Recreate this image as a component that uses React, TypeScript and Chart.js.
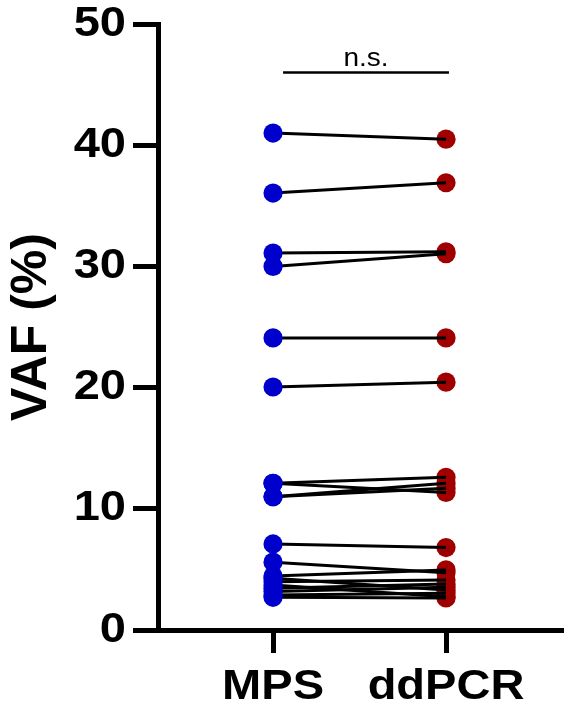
import React, { useEffect, useRef } from 'react';
import { Chart, registerables } from 'chart.js';

Chart.register(...registerables);

// ---- data ----
const GROUPS = ['MPS', 'ddPCR'];
const MPS_VAF = [41.0, 36.05, 31.1, 30.0, 24.1, 20.05, 12.1, 12.1, 11.0, 11.0, 7.1, 5.6, 4.46, 4.27, 3.99, 3.72, 3.45, 3.17, 2.89, 2.7];
const DDPCR_VAF = [40.5, 36.9, 31.2, 31.05, 24.1, 20.45, 12.6, 11.35, 12.1, 11.7, 6.8, 4.73, 4.96, 3.3, 4.13, 2.75, 3.8, 3.53, 3.03, 2.65];
const Y_TICKS = [0, 10, 20, 30, 40, 50];
const Y_TITLE = 'VAF (%)';
const SIGNIF_LABEL = 'n.s.';
const SIGNIF_Y = 46;
const SIGNIF_X = [1.058, 2.017];

const FONT = '"Liberation Sans", Arial, sans-serif';
const TEXT_STRETCH = 1.12;
const BLUE = 'rgb(0,0,204)';
const RED = 'rgb(160,0,0)';

function stretchHorizontalText(ctx: any) {
  if (ctx.__stretched) return;
  const orig = ctx.fillText;
  ctx.fillText = function (text: string, x: number, y: number) {
    const m = this.getTransform();
    if (Math.abs(m.b) > 0.01 || Math.abs(m.c) > 0.01) {
      return orig.call(this, text, x, y);
    }
    this.save();
    this.translate(x, y);
    this.scale(TEXT_STRETCH, 1);
    orig.call(this, text, 0, 0);
    this.restore();
  };
  ctx.__stretched = true;
}

const bracketPlugin = {
  id: 'signifBracket',
  afterDatasetsDraw(chart: any) {
    const { ctx, scales } = chart;
    const xs = scales.x;
    const ys = scales.y;
    const x1 = xs.getPixelForValue(SIGNIF_X[0]);
    const x2 = xs.getPixelForValue(SIGNIF_X[1]);
    const yy = ys.getPixelForValue(SIGNIF_Y);
    ctx.save();
    ctx.strokeStyle = '#000';
    ctx.lineWidth = 2.5;
    ctx.beginPath();
    ctx.moveTo(x1, yy);
    ctx.lineTo(x2, yy);
    ctx.stroke();
    ctx.fillStyle = '#000';
    ctx.font = `25px ${FONT}`;
    ctx.textAlign = 'center';
    ctx.textBaseline = 'alphabetic';
    ctx.fillText(SIGNIF_LABEL, (x1 + x2) / 2, yy - 6.5);
    ctx.restore();
  },
};

export default function App() {
  const ref = useRef<HTMLCanvasElement | null>(null);

  useEffect(() => {
    const canvas = ref.current;
    if (!canvas) return;
    const ctx = canvas.getContext('2d');
    stretchHorizontalText(ctx);

    const pairSets = MPS_VAF.map((v, i) => ({
      type: 'line' as const,
      data: [
        { x: 1, y: v },
        { x: 2, y: DDPCR_VAF[i] },
      ],
      borderColor: '#000',
      borderWidth: 3,
      pointRadius: 0,
      fill: false,
      order: 2,
    }));

    const chart = new Chart(ctx as any, {
      type: 'scatter',
      data: {
        datasets: [
          {
            label: GROUPS[0],
            data: MPS_VAF.map((v) => ({ x: 1, y: v })),
            backgroundColor: BLUE,
            borderColor: BLUE,
            borderWidth: 0,
            pointRadius: 9.6,
            order: 1,
          },
          ...pairSets,
          {
            label: GROUPS[1],
            data: DDPCR_VAF.map((v) => ({ x: 2, y: v })),
            backgroundColor: RED,
            borderColor: RED,
            borderWidth: 0,
            pointRadius: 9.6,
            order: 3,
          },
        ] as any,
      },
      options: {
        animation: false,
        responsive: false,
        devicePixelRatio: 1,
        layout: { autoPadding: false, padding: { top: 24, right: 0, left: 0, bottom: 0 } },
        plugins: {
          legend: { display: false },
          tooltip: { enabled: false },
        },
        scales: {
          x: {
            type: 'linear',
            min: 0.335,
            max: 2.682,
            afterBuildTicks: (s: any) => {
              s.ticks = [1, 2].map((v) => ({ value: v }));
            },
            afterFit: (s: any) => {
              s.height = 78;
              s.paddingLeft = 0;
              s.paddingRight = 0;
            },
            grid: {
              drawOnChartArea: false,
              drawTicks: true,
              tickLength: 23,
              tickWidth: 5,
              tickColor: '#000',
            },
            border: { display: true, width: 5, color: '#000' },
            ticks: {
              color: '#000',
              padding: 13,
              autoSkip: false,
              maxRotation: 0,
              minRotation: 0,
              font: { family: FONT, size: 42, weight: 'bold', lineHeight: 1 },
              callback: (v: any) => GROUPS[Math.round(Number(v)) - 1] ?? '',
            },
          },
          y: {
            type: 'linear',
            min: 0,
            max: 50,
            afterBuildTicks: (s: any) => {
              s.ticks = Y_TICKS.map((v) => ({ value: v }));
            },
            afterFit: (s: any) => {
              s.width = 158;
              s.paddingTop = 0;
              s.paddingBottom = 0;
            },
            grid: {
              drawOnChartArea: false,
              drawTicks: true,
              tickLength: 25,
              tickWidth: 5,
              tickColor: '#000',
            },
            border: { display: true, width: 5, color: '#000' },
            ticks: {
              color: '#000',
              padding: 7,
              font: { family: FONT, size: 42, weight: 'bold', lineHeight: 1 },
            },
            title: {
              display: true,
              text: Y_TITLE,
              color: '#000',
              font: { family: FONT, size: 50, weight: 'bold', lineHeight: 1.2 },
              padding: { top: 2, bottom: 0 },
            },
          },
        },
      } as any,
      plugins: [bracketPlugin],
    });

    return () => chart.destroy();
  }, []);

  return (
    <div style={{ position: 'fixed', left: 0, top: 0, width: 564, height: 708, background: '#fff' }}>
      <canvas ref={ref} width={564} height={708} style={{ display: 'block', width: 564, height: 708 }} />
    </div>
  );
}
